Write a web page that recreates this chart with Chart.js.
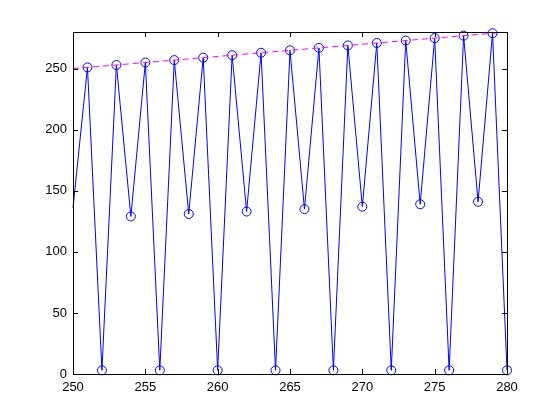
<!DOCTYPE html>
<html>
<head>
  <script src="https://cdn.jsdelivr.net/npm/chart.js@4.4.1/dist/chart.umd.min.js"></script>
  <style>
    body { margin: 0; background: #fff; }
    #wrap { width: 560px; height: 420px; }
  </style>
</head>
<body>
  <div id="wrap"><canvas id="plot"></canvas></div>
  <script>
    // datos
    const xValues = [250, 251, 252, 253, 254, 255, 256, 257, 258, 259, 260,
                     261, 262, 263, 264, 265, 266, 267, 268, 269, 270,
                     271, 272, 273, 274, 275, 276, 277, 278, 279, 280];
    const yValues = [136, 251, 3, 253, 129, 255, 3, 257, 131, 259, 3,
                     261, 133, 263, 3, 265, 135, 267, 3, 269, 137,
                     271, 3, 273, 139, 275, 3, 277, 141, 279, 3];
    const refX = [250, 280];
    const refY = [250, 280];
    const xTicks = [250, 255, 260, 265, 270, 275, 280];
    const yTicks = [0, 50, 100, 150, 200, 250];

    const blueData = xValues.map((x, i) => ({ x: x, y: yValues[i] }));
    const refData = refX.map((x, i) => ({ x: x, y: refY[i] }));
    // el primer punto no tiene marcador en la imagen
    const radii = xValues.map((x, i) => i === 0 ? 0 : 4.5);

    // caja y marcas hacia dentro, estilo matlab
    const boxPlugin = {
      id: 'box',
      afterDraw(chart) {
        const ctx = chart.ctx;
        const a = chart.chartArea;
        const sx = chart.scales.x, sy = chart.scales.y;
        const len = 5;
        ctx.save();
        ctx.strokeStyle = '#000';
        ctx.lineWidth = 1;
        ctx.beginPath();
        ctx.rect(Math.round(a.left) + 0.5, Math.round(a.top) + 0.5,
                 Math.round(a.right - a.left), Math.round(a.bottom - a.top));
        xTicks.forEach(v => {
          const px = Math.round(sx.getPixelForValue(v)) + 0.5;
          ctx.moveTo(px, a.bottom); ctx.lineTo(px, a.bottom - len);
          ctx.moveTo(px, a.top); ctx.lineTo(px, a.top + len);
        });
        yTicks.forEach(v => {
          const py = Math.round(sy.getPixelForValue(v)) + 0.5;
          ctx.moveTo(a.left, py); ctx.lineTo(a.left + len, py);
          ctx.moveTo(a.right, py); ctx.lineTo(a.right - len, py);
        });
        ctx.stroke();
        ctx.restore();
      }
    };

    new Chart(document.getElementById('plot'), {
      type: 'scatter',
      data: {
        datasets: [
          {
            data: blueData,
            showLine: true,
            borderColor: '#0000ff',
            borderWidth: 1,
            pointStyle: 'circle',
            pointRadius: radii,
            pointBorderColor: '#0000ff',
            pointBackgroundColor: 'rgba(0,0,0,0)',
            pointBorderWidth: 1,
            clip: false,
            order: 2
          },
          {
            data: refData,
            showLine: true,
            borderColor: '#ff00ff',
            borderWidth: 1,
            borderDash: [6, 4],
            pointRadius: 0,
            order: 1
          }
        ]
      },
      options: {
        responsive: true,
        maintainAspectRatio: false,
        animation: false,
        layout: { padding: { top: 32, right: 53, left: 0, bottom: 0 } },
        plugins: { legend: { display: false }, tooltip: { enabled: false } },
        scales: {
          x: {
            type: 'linear',
            min: 250,
            max: 280,
            grid: { display: false, drawTicks: false },
            border: { display: false },
            afterBuildTicks: s => { s.ticks = xTicks.map(v => ({ value: v })); },
            afterFit: s => { s.height = 46; },
            ticks: {
              color: '#000',
              padding: 6,
              maxRotation: 0,
              font: { family: 'Liberation Sans, Arial, sans-serif', size: 13 }
            }
          },
          y: {
            type: 'linear',
            min: 0,
            max: 280,
            grid: { display: false, drawTicks: false },
            border: { display: false },
            afterBuildTicks: s => { s.ticks = yTicks.map(v => ({ value: v })); },
            afterFit: s => { s.width = 73; },
            ticks: {
              color: '#000',
              padding: 6,
              font: { family: 'Liberation Sans, Arial, sans-serif', size: 13 }
            }
          }
        }
      },
      plugins: [boxPlugin]
    });
  </script>
</body>
</html>
